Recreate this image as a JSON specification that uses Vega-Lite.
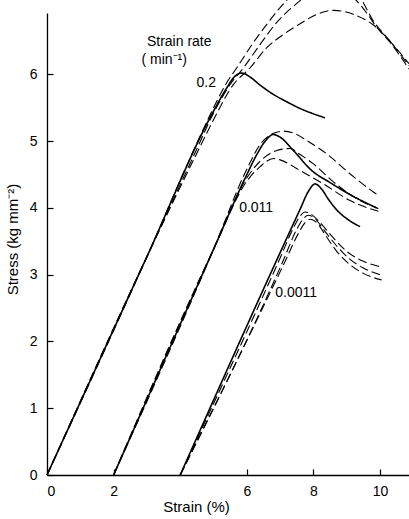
{
  "$schema": "https://vega.github.io/schema/vega-lite/v6.json",
  "width": 362,
  "height": 462,
  "autosize": {"type": "none"},
  "padding": {"left": 47, "top": 13, "right": 0, "bottom": 44},
  "background": "white",
  "config": {
    "view": {"stroke": null},
    "font": "Liberation Sans",
    "axis": {
      "domainColor": "black",
      "domainWidth": 1.3,
      "tickColor": "black",
      "tickWidth": 1.2,
      "tickSize": -6,
      "grid": false,
      "labelColor": "black",
      "labelFont": "Liberation Sans",
      "labelFontSize": 14,
      "titleColor": "black",
      "titleFont": "Liberation Sans",
      "titleFontSize": 15,
      "titleFontWeight": "normal"
    }
  },
  "datasets": {
    "curves": [
      {"c": "r1_solid", "s": "solid", "x": 0, "y": 0},
      {"c": "r1_solid", "s": "solid", "x": 3.0, "y": 3.27},
      {"c": "r1_solid", "s": "solid", "x": 5.0, "y": 5.45},
      {"c": "r1_solid", "s": "solid", "x": 5.4, "y": 5.8},
      {"c": "r1_solid", "s": "solid", "x": 5.6, "y": 5.95},
      {"c": "r1_solid", "s": "solid", "x": 5.85, "y": 6.02},
      {"c": "r1_solid", "s": "solid", "x": 6.1, "y": 5.96},
      {"c": "r1_solid", "s": "solid", "x": 6.4, "y": 5.84},
      {"c": "r1_solid", "s": "solid", "x": 6.8, "y": 5.7},
      {"c": "r1_solid", "s": "solid", "x": 7.2, "y": 5.59},
      {"c": "r1_solid", "s": "solid", "x": 7.6, "y": 5.49},
      {"c": "r1_solid", "s": "solid", "x": 8.0, "y": 5.41},
      {"c": "r1_solid", "s": "solid", "x": 8.35, "y": 5.35},

      {"c": "r1_a", "s": "dashed", "x": 0, "y": 0},
      {"c": "r1_a", "s": "dashed", "x": 3.0, "y": 3.27},
      {"c": "r1_a", "s": "dashed", "x": 4.4, "y": 4.86},
      {"c": "r1_a", "s": "dashed", "x": 5.0, "y": 5.5},
      {"c": "r1_a", "s": "dashed", "x": 5.4, "y": 5.88},
      {"c": "r1_a", "s": "dashed", "x": 5.7, "y": 6.1},
      {"c": "r1_a", "s": "dashed", "x": 6.2, "y": 6.48},
      {"c": "r1_a", "s": "dashed", "x": 6.6, "y": 6.75},
      {"c": "r1_a", "s": "dashed", "x": 7.0, "y": 7.0},
      {"c": "r1_a", "s": "dashed", "x": 7.5, "y": 7.25},
      {"c": "r1_a", "s": "dashed", "x": 8.2, "y": 7.4},
      {"c": "r1_a", "s": "dashed", "x": 8.9, "y": 7.35},
      {"c": "r1_a", "s": "dashed", "x": 9.4, "y": 7.15},
      {"c": "r1_a", "s": "dashed", "x": 9.8, "y": 6.8},
      {"c": "r1_a", "s": "dashed", "x": 10.3, "y": 6.5},
      {"c": "r1_a", "s": "dashed", "x": 10.87, "y": 6.13},

      {"c": "r1_b", "s": "dashed", "x": 0, "y": 0},
      {"c": "r1_b", "s": "dashed", "x": 3.0, "y": 3.27},
      {"c": "r1_b", "s": "dashed", "x": 4.45, "y": 4.83},
      {"c": "r1_b", "s": "dashed", "x": 5.0, "y": 5.42},
      {"c": "r1_b", "s": "dashed", "x": 5.5, "y": 5.85},
      {"c": "r1_b", "s": "dashed", "x": 5.9, "y": 6.1},
      {"c": "r1_b", "s": "dashed", "x": 6.4, "y": 6.45},
      {"c": "r1_b", "s": "dashed", "x": 6.9, "y": 6.78},
      {"c": "r1_b", "s": "dashed", "x": 7.35, "y": 7.0},
      {"c": "r1_b", "s": "dashed", "x": 7.9, "y": 7.2},
      {"c": "r1_b", "s": "dashed", "x": 8.6, "y": 7.28},
      {"c": "r1_b", "s": "dashed", "x": 9.2, "y": 7.15},
      {"c": "r1_b", "s": "dashed", "x": 9.6, "y": 6.92},
      {"c": "r1_b", "s": "dashed", "x": 9.85, "y": 6.74},
      {"c": "r1_b", "s": "dashed", "x": 10.35, "y": 6.45},
      {"c": "r1_b", "s": "dashed", "x": 10.87, "y": 6.08},

      {"c": "r1_c", "s": "dashed", "x": 0, "y": 0},
      {"c": "r1_c", "s": "dashed", "x": 3.0, "y": 3.27},
      {"c": "r1_c", "s": "dashed", "x": 4.5, "y": 4.82},
      {"c": "r1_c", "s": "dashed", "x": 5.0, "y": 5.32},
      {"c": "r1_c", "s": "dashed", "x": 5.6, "y": 5.85},
      {"c": "r1_c", "s": "dashed", "x": 6.1, "y": 6.1},
      {"c": "r1_c", "s": "dashed", "x": 6.6, "y": 6.4},
      {"c": "r1_c", "s": "dashed", "x": 7.1, "y": 6.6},
      {"c": "r1_c", "s": "dashed", "x": 7.6, "y": 6.76},
      {"c": "r1_c", "s": "dashed", "x": 8.1, "y": 6.9},
      {"c": "r1_c", "s": "dashed", "x": 8.6, "y": 6.96},
      {"c": "r1_c", "s": "dashed", "x": 9.2, "y": 6.9},
      {"c": "r1_c", "s": "dashed", "x": 9.8, "y": 6.74},
      {"c": "r1_c", "s": "dashed", "x": 10.4, "y": 6.44},
      {"c": "r1_c", "s": "dashed", "x": 10.87, "y": 6.16},

      {"c": "r2_solid", "s": "solid", "x": 2, "y": 0},
      {"c": "r2_solid", "s": "solid", "x": 5.0, "y": 3.38},
      {"c": "r2_solid", "s": "solid", "x": 6.0, "y": 4.5},
      {"c": "r2_solid", "s": "solid", "x": 6.3, "y": 4.8},
      {"c": "r2_solid", "s": "solid", "x": 6.55, "y": 5.0},
      {"c": "r2_solid", "s": "solid", "x": 6.8, "y": 5.1},
      {"c": "r2_solid", "s": "solid", "x": 7.0, "y": 5.06},
      {"c": "r2_solid", "s": "solid", "x": 7.4, "y": 4.86},
      {"c": "r2_solid", "s": "solid", "x": 7.95, "y": 4.56},
      {"c": "r2_solid", "s": "solid", "x": 8.5, "y": 4.38},
      {"c": "r2_solid", "s": "solid", "x": 9.1, "y": 4.2},
      {"c": "r2_solid", "s": "solid", "x": 9.9, "y": 4.0},

      {"c": "r2_a", "s": "dashed", "x": 2, "y": 0},
      {"c": "r2_a", "s": "dashed", "x": 5.0, "y": 3.38},
      {"c": "r2_a", "s": "dashed", "x": 6.0, "y": 4.58},
      {"c": "r2_a", "s": "dashed", "x": 6.4, "y": 4.95},
      {"c": "r2_a", "s": "dashed", "x": 6.8, "y": 5.12},
      {"c": "r2_a", "s": "dashed", "x": 7.1, "y": 5.15},
      {"c": "r2_a", "s": "dashed", "x": 7.5, "y": 5.1},
      {"c": "r2_a", "s": "dashed", "x": 7.8, "y": 5.01},
      {"c": "r2_a", "s": "dashed", "x": 8.4, "y": 4.81},
      {"c": "r2_a", "s": "dashed", "x": 9.1, "y": 4.51},
      {"c": "r2_a", "s": "dashed", "x": 9.8, "y": 4.24},
      {"c": "r2_a", "s": "dashed", "x": 9.95, "y": 4.19},

      {"c": "r2_b", "s": "dashed", "x": 2, "y": 0},
      {"c": "r2_b", "s": "dashed", "x": 5.0, "y": 3.38},
      {"c": "r2_b", "s": "dashed", "x": 6.0, "y": 4.45},
      {"c": "r2_b", "s": "dashed", "x": 6.4, "y": 4.7},
      {"c": "r2_b", "s": "dashed", "x": 6.9, "y": 4.86},
      {"c": "r2_b", "s": "dashed", "x": 7.3, "y": 4.89},
      {"c": "r2_b", "s": "dashed", "x": 7.6, "y": 4.8},
      {"c": "r2_b", "s": "dashed", "x": 8.0, "y": 4.66},
      {"c": "r2_b", "s": "dashed", "x": 8.6, "y": 4.39},
      {"c": "r2_b", "s": "dashed", "x": 9.3, "y": 4.14},
      {"c": "r2_b", "s": "dashed", "x": 9.95, "y": 3.99},

      {"c": "r2_c", "s": "dashed", "x": 2, "y": 0},
      {"c": "r2_c", "s": "dashed", "x": 5.0, "y": 3.38},
      {"c": "r2_c", "s": "dashed", "x": 6.0, "y": 4.4},
      {"c": "r2_c", "s": "dashed", "x": 6.4, "y": 4.62},
      {"c": "r2_c", "s": "dashed", "x": 6.8, "y": 4.74},
      {"c": "r2_c", "s": "dashed", "x": 7.0, "y": 4.72},
      {"c": "r2_c", "s": "dashed", "x": 7.6, "y": 4.56},
      {"c": "r2_c", "s": "dashed", "x": 8.3, "y": 4.36},
      {"c": "r2_c", "s": "dashed", "x": 9.1, "y": 4.11},
      {"c": "r2_c", "s": "dashed", "x": 9.95, "y": 3.95},

      {"c": "r3_solid", "s": "solid", "x": 4, "y": 0},
      {"c": "r3_solid", "s": "solid", "x": 7.0, "y": 3.33},
      {"c": "r3_solid", "s": "solid", "x": 7.6, "y": 3.98},
      {"c": "r3_solid", "s": "solid", "x": 7.85, "y": 4.25},
      {"c": "r3_solid", "s": "solid", "x": 8.05, "y": 4.36},
      {"c": "r3_solid", "s": "solid", "x": 8.25, "y": 4.28},
      {"c": "r3_solid", "s": "solid", "x": 8.45, "y": 4.13},
      {"c": "r3_solid", "s": "solid", "x": 8.7, "y": 3.97},
      {"c": "r3_solid", "s": "solid", "x": 9.0, "y": 3.84},
      {"c": "r3_solid", "s": "solid", "x": 9.4, "y": 3.72},

      {"c": "r3_a", "s": "dashed", "x": 4, "y": 0},
      {"c": "r3_a", "s": "dashed", "x": 7.0, "y": 3.25},
      {"c": "r3_a", "s": "dashed", "x": 7.4, "y": 3.7},
      {"c": "r3_a", "s": "dashed", "x": 7.6, "y": 3.88},
      {"c": "r3_a", "s": "dashed", "x": 7.75, "y": 3.94},
      {"c": "r3_a", "s": "dashed", "x": 7.95, "y": 3.9},
      {"c": "r3_a", "s": "dashed", "x": 8.2, "y": 3.78},
      {"c": "r3_a", "s": "dashed", "x": 8.6, "y": 3.55},
      {"c": "r3_a", "s": "dashed", "x": 9.0, "y": 3.35},
      {"c": "r3_a", "s": "dashed", "x": 9.5, "y": 3.2},
      {"c": "r3_a", "s": "dashed", "x": 10.0, "y": 3.12},

      {"c": "r3_b", "s": "dashed", "x": 4, "y": 0},
      {"c": "r3_b", "s": "dashed", "x": 7.1, "y": 3.22},
      {"c": "r3_b", "s": "dashed", "x": 7.5, "y": 3.68},
      {"c": "r3_b", "s": "dashed", "x": 7.7, "y": 3.84},
      {"c": "r3_b", "s": "dashed", "x": 7.85, "y": 3.89},
      {"c": "r3_b", "s": "dashed", "x": 8.05, "y": 3.84},
      {"c": "r3_b", "s": "dashed", "x": 8.3, "y": 3.68},
      {"c": "r3_b", "s": "dashed", "x": 8.7, "y": 3.43},
      {"c": "r3_b", "s": "dashed", "x": 9.1, "y": 3.23},
      {"c": "r3_b", "s": "dashed", "x": 9.5, "y": 3.1},
      {"c": "r3_b", "s": "dashed", "x": 10.0, "y": 3.0},

      {"c": "r3_c", "s": "dashed", "x": 4, "y": 0},
      {"c": "r3_c", "s": "dashed", "x": 7.15, "y": 3.2},
      {"c": "r3_c", "s": "dashed", "x": 7.55, "y": 3.62},
      {"c": "r3_c", "s": "dashed", "x": 7.75, "y": 3.78},
      {"c": "r3_c", "s": "dashed", "x": 7.9, "y": 3.83},
      {"c": "r3_c", "s": "dashed", "x": 8.1, "y": 3.78},
      {"c": "r3_c", "s": "dashed", "x": 8.35, "y": 3.6},
      {"c": "r3_c", "s": "dashed", "x": 8.7, "y": 3.35},
      {"c": "r3_c", "s": "dashed", "x": 9.1, "y": 3.15},
      {"c": "r3_c", "s": "dashed", "x": 9.5, "y": 3.02},
      {"c": "r3_c", "s": "dashed", "x": 10.05, "y": 2.92}
    ],
    "notes": [
      {"label": "Strain rate", "x": 3.97, "y": 6.49},
      {"label": "( min⁻¹)", "x": 3.52, "y": 6.21},
      {"label": "0.2", "x": 4.78, "y": 5.87},
      {"label": "0.011", "x": 6.28, "y": 4.0},
      {"label": "0.0011", "x": 7.48, "y": 2.72}
    ]
  },
  "layer": [
    {
      "data": {"name": "curves"},
      "mark": {"type": "line", "interpolate": "monotone", "color": "black"},
      "encoding": {
        "x": {
          "field": "x",
          "type": "quantitative",
          "scale": {"domain": [0, 10.87], "nice": false, "zero": false},
          "axis": {
            "title": "Strain (%)",
            "values": [0, 2, 6, 8, 10],
            "format": "d",
            "labelPadding": 15,
            "titleX": 149,
            "titleY": 36,
            "titleBaseline": "alphabetic",
            "titleAnchor": null,
            "titleAlign": "center"
          }
        },
        "y": {
          "field": "y",
          "type": "quantitative",
          "scale": {"domain": [0, 6.92], "nice": false, "zero": false},
          "axis": {
            "title": "Stress (kg mm⁻²)",
            "values": [0, 1, 2, 3, 4, 5, 6],
            "format": "d",
            "labelPadding": 16,
            "titleX": -35,
            "titleY": 226,
            "titleBaseline": "middle",
            "titleAlign": "center",
            "titleAngle": -90
          }
        },
        "detail": {"field": "c"},
        "strokeDash": {
          "field": "s",
          "type": "nominal",
          "scale": {"domain": ["solid", "dashed"], "range": [[1, 0], [9, 4]]},
          "legend": null
        },
        "strokeWidth": {
          "field": "s",
          "type": "nominal",
          "scale": {"domain": ["solid", "dashed"], "range": [1.6, 1.1]},
          "legend": null
        }
      }
    },
    {
      "data": {"name": "notes"},
      "mark": {
        "type": "text",
        "font": "Liberation Sans",
        "fontSize": 14,
        "align": "center",
        "baseline": "middle",
        "color": "black"
      },
      "encoding": {
        "x": {"field": "x", "type": "quantitative"},
        "y": {"field": "y", "type": "quantitative"},
        "text": {"field": "label"}
      }
    }
  ]
}
